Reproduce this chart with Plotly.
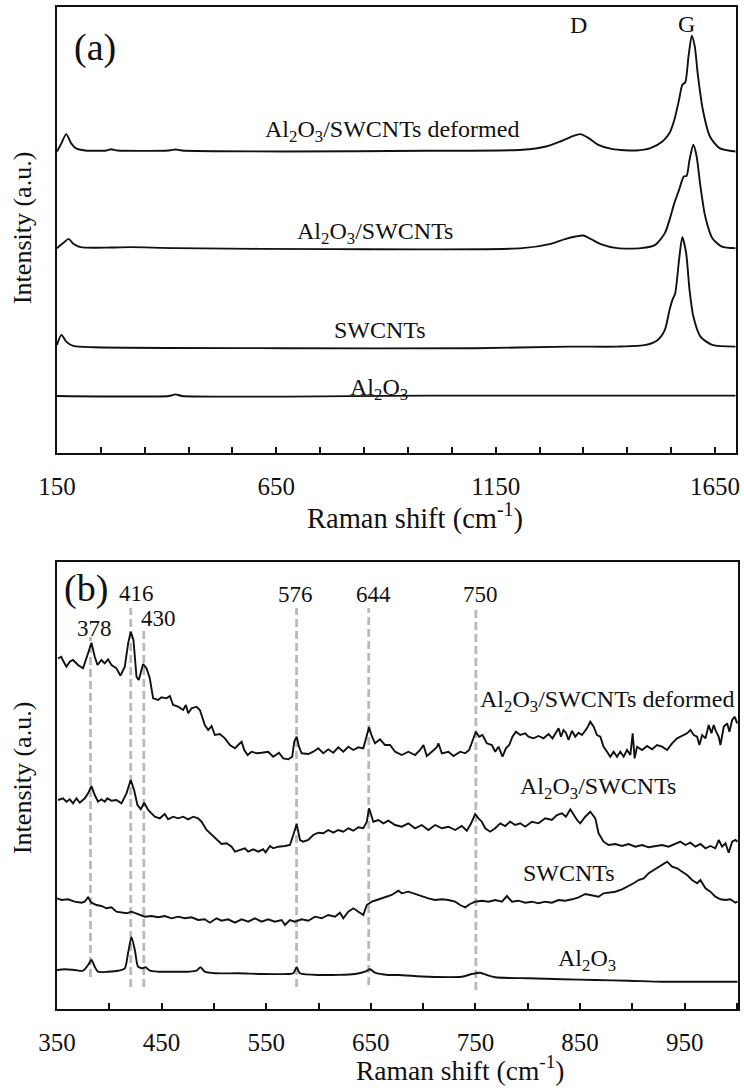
import plotly.graph_objects as go

# ---------------- Panel (a) data: Raman shift (cm-1), intensity (a.u.) ----------------
a_deformed = [(150, 301.3), (160.3, 309.7), (171, 318.7), (182, 309.7), (192.6, 304.7), (214.3, 302.3),
              (262, 302.3), (273.8, 303.5), (288, 302.3), (405, 302.3), (420, 303.3), (435, 302.3),
              (669, 301.3), (994, 302), (1210.6, 303), (1264.7, 306.3), (1297.3, 311.3), (1324.2, 316.3),
              (1342.6, 318.7), (1362, 314.7), (1383.9, 308), (1416.3, 303.7), (1470.5, 302.3),
              (1502.9, 304.7), (1530, 311.3), (1546.2, 319.7), (1557.2, 333), (1567.9, 353),
              (1575.4, 368), (1582, 370.3), (1589.5, 396.3), (1597, 417), (1603.7, 406.3),
              (1611.2, 376.3), (1622.1, 343), (1638.3, 316.3), (1660, 304.7), (1697, 301.3)]
a_composite = [(150, 204.7), (165.5, 210.3), (176.4, 214), (187.2, 209), (203.6, 205.7), (273.8, 205.3),
               (317.1, 205.7), (420, 204.7), (777.3, 203.7), (1210.6, 204.7), (1275.6, 209), (1308, 213.7),
               (1331.9, 216.3), (1349.3, 217.3), (1367.5, 213.7), (1389.2, 208.7), (1427.2, 204.7),
               (1481.2, 204.7), (1513.8, 208), (1535.5, 219.7), (1546.2, 233), (1557.2, 249.7),
               (1567.9, 263), (1578.8, 276.3), (1585.2, 277), (1591.8, 293), (1600.5, 308), (1608, 296.3),
               (1616.7, 266.3), (1627.6, 236.3), (1643.8, 214.7), (1665.4, 206.3), (1697, 204.7)]
a_swcnts = [(150, 108), (160.3, 118), (171, 111.3), (187.2, 107), (236, 105.7), (669, 104.7),
            (1102.4, 104.7), (1318.7, 106.3), (1427.2, 106.3), (1492.2, 108), (1519.3, 113),
            (1535.5, 123), (1546.2, 143), (1552.8, 153), (1559.2, 159.7), (1567.9, 193), (1575.4, 215.7),
            (1584.1, 199.7), (1591.8, 163), (1600.5, 136.3), (1616.7, 116.3), (1643.8, 108), (1697, 106.3)]
a_al2o3 = [(150, 57), (405, 57), (420, 58.6), (435, 57), (1000, 57.3), (1697, 57.3)]

a_tick_vals = [150, 650, 1150, 1650]
a_tick_text = ["150", "650", "1150", "1650"]
a_minor_step = 100

# ---------------- Panel (b) data ----------------
b_deformed = [(351, 350.7), (354.2, 352.3), (355.5, 349), (359, 342.3), (362.2, 347.3), (365.3, 349),
              (370.1, 344), (374.9, 340.7), (379.7, 355.7), (382.9, 366.3), (386.1, 352.3), (388.7, 344),
              (392.5, 349), (395.6, 345.7), (398.8, 349.7), (402.1, 344), (406.8, 340.7), (410.7, 333.3),
              (414.8, 342.3), (418, 365.7), (420.5, 377.3), (423.1, 369), (426, 332.3), (428.2, 329),
              (432.3, 345), (435.6, 340.7), (438.7, 330.7), (441.9, 310.7), (446.7, 309), (449.9, 311.7),
              (454.7, 310.7), (457.9, 313), (461, 304), (465.8, 302.3), (470.6, 299), (473.2, 304),
              (475.4, 295.7), (478.6, 300.7), (483.4, 302.3), (486.6, 299), (491.3, 284), (494.5, 279),
              (497.8, 283), (500.9, 274), (505.7, 275), (510.5, 270.7), (515.3, 264), (520.1, 260.7),
              (523.2, 264), (526.5, 267.3), (529, 259), (532.2, 254), (536, 257.3), (540.8, 255.7),
              (545.6, 256.3), (551.9, 257.3), (556.7, 252.3), (562.2, 256.3), (566.3, 250.7), (571.1, 249.7),
              (574.9, 252.3), (576.8, 267.3), (579.1, 272.3), (581.3, 262.3), (583.9, 255.7), (590.2, 255),
              (595, 257.3), (599.8, 260.7), (604.6, 255.7), (609.3, 259.7), (614.1, 256.3), (618.9, 261.7),
              (623.7, 257.3), (628.5, 262.3), (633.3, 259), (638, 261.7), (642.8, 260.7), (646.1, 272.3),
              (648.3, 281.7), (650.9, 273), (654, 265.7), (658.8, 269.7), (663.6, 264), (668.4, 264),
              (673.2, 257.3), (679.6, 254), (685.9, 257.3), (692.3, 254), (697.1, 259), (700.3, 264),
              (703.5, 253), (708.3, 257.3), (713.1, 261.7), (714.6, 265.7), (717.9, 255.7), (724.2, 257.3),
              (729, 253), (735.4, 257.3), (740.2, 255.7), (744, 259), (747.2, 269), (750.4, 277.3),
              (753.6, 272.3), (756.7, 274), (760.9, 265.7), (765.7, 264), (768.9, 257.3), (772, 262.3),
              (775.9, 252.3), (779.1, 260.7), (782.3, 264), (785.4, 272.3), (788.7, 277.3), (792.8, 274),
              (797.6, 275.7), (800.7, 272.3), (805.5, 270.7), (810.3, 273), (815.1, 270.7), (819.9, 275),
              (823.7, 270.7), (826.3, 275.7), (829.5, 280.7), (831.8, 272.3), (834.2, 279), (836.5, 276.3),
              (839, 269), (842.3, 278.3), (845.4, 272.3), (848.6, 276.3), (851.9, 274), (856.6, 280.7),
              (859.8, 287.3), (863, 282.3), (866.2, 274), (869.4, 272.3), (872.5, 262.3), (875.8, 257.3),
              (878.9, 252.3), (882.1, 257.3), (885.3, 252.3), (888.5, 257.3), (891.7, 252.3), (894.9, 259),
              (898.1, 254), (900.3, 275.7), (902.2, 250.7), (904.5, 262.3), (909.3, 259), (914.1, 263),
              (918.8, 259.7), (923.6, 264), (928.4, 262.3), (933.2, 259), (938, 265.7), (942.8, 270.7),
              (947.6, 273), (952.3, 275.7), (955.5, 279), (958.7, 274), (961.9, 272.3), (964.1, 264),
              (966.7, 274), (969.9, 270.7), (973, 284), (975.6, 275.7), (977.8, 284), (980.1, 277.3),
              (982.6, 272.3), (984.2, 264), (987.4, 282.3), (990.6, 285.7), (992.8, 277.3), (995.4, 289),
              (997.9, 292.3), (1000.2, 285.7)]

b_composite = [(351, 209), (355.7, 210.7), (359, 207.3), (362.2, 209.7), (365.3, 205.7), (368.6, 210.7),
               (371.8, 206.3), (376.6, 210.7), (379.7, 215.7), (382.9, 223), (386.1, 214), (389.2, 207.3),
               (392.5, 209.7), (395.6, 207.3), (398.2, 210.7), (402.1, 208.3), (406.8, 209), (411.6, 205.7),
               (416.4, 215.7), (420.5, 229), (423.7, 219), (426.9, 204), (430.1, 199.7), (433.3, 206.3),
               (437.1, 199), (440.3, 195.7), (443.5, 192.3), (448.3, 190.7), (453, 195), (456.2, 189.7),
               (461, 192.3), (465.8, 190.7), (470.6, 192.3), (475.4, 189.7), (480.2, 192.3), (484.9, 190.7),
               (488.2, 187.3), (493, 179), (497.8, 174), (502.5, 169), (507.3, 165), (512.1, 165.7),
               (516.9, 162.3), (520.1, 157.3), (524.8, 159), (529.6, 160.7), (532.8, 157.3), (537.6, 159.7),
               (542.4, 157.3), (547.1, 159.7), (549.4, 156.7), (553.6, 163), (556.7, 160.7), (561.5, 162.3),
               (567.9, 163), (572.7, 164), (575.9, 174), (579.1, 185), (582.3, 169), (585.4, 167.3),
               (590.2, 169), (595, 174), (599.8, 176.3), (604.6, 175.7), (609.3, 179), (614.1, 176.3),
               (618.9, 179), (623.7, 177.3), (628.5, 180.7), (633.3, 178.3), (638.1, 181.7), (642.8, 180.7),
               (646.1, 187), (648.3, 200.7), (652.4, 187.3), (657.2, 189), (662, 185.7), (666.8, 188.3),
               (673.2, 184), (679.6, 182.3), (685.9, 185.7), (692.3, 180.7), (698.7, 184), (705, 179),
               (711.5, 184), (717.9, 180.7), (724.2, 182.3), (730.6, 179), (737, 183), (741.8, 178.3),
               (745.9, 185.7), (749.7, 195), (752.9, 190.7), (756.1, 187.3), (759.3, 180.7), (764.1, 177.3),
               (768.9, 180.7), (773.7, 185.7), (778.5, 183), (783.2, 187.3), (788, 184), (792.8, 185.7),
               (797.6, 182.3), (804, 187.3), (810.3, 185.7), (816.7, 190.7), (823.1, 189), (827.9, 194),
               (832.7, 195.7), (836.5, 192.3), (840.7, 199.7), (843.8, 194), (847.1, 189), (850.2, 185.7),
               (855, 192.3), (859.8, 197.3), (864.6, 190.7), (867.7, 175.7), (872.5, 167.3), (877.3, 164),
               (883.7, 165), (890.1, 163), (896.4, 165), (902.9, 162.3), (909.3, 164), (915.6, 161.7),
               (922, 163), (928.4, 164), (934.7, 162.3), (941.1, 165), (945.9, 167.3), (950.7, 164),
               (955.5, 166.3), (960.3, 162.3), (965.1, 165), (969.9, 160.7), (974.6, 163), (979.4, 160.7),
               (982.6, 169), (985.8, 162.3), (989, 165.7), (992.1, 156.3), (995.4, 167.3), (998.6, 169),
               (1000.5, 167.3)]

b_swcnts = [(350, 110.7), (354.2, 109), (360.5, 109.7), (366.9, 107.3), (373.4, 106.3), (376.5, 107.3),
            (379.7, 111.7), (382.9, 106.3), (387.7, 104), (392.5, 103), (397.3, 100.7), (402.1, 101.7),
            (406.8, 97.3), (411.6, 96.3), (416.4, 95.7), (421.2, 97.3), (427.5, 95), (433.9, 92.3),
            (440.3, 93), (446.7, 91.7), (453.1, 93), (459.5, 90.7), (465.8, 92.3), (472.2, 90.7),
            (478.6, 91.7), (484.9, 89), (491.3, 89.7), (496.1, 86.3), (502.5, 90.7), (507.3, 88.3),
            (513.6, 89.7), (520.1, 86.3), (526.5, 89.7), (532.8, 87.3), (539.2, 90.7), (545.6, 87.3),
            (551.9, 89.7), (558.3, 87.3), (564.7, 89), (567.9, 84), (572.7, 89), (577.5, 87.3),
            (583.9, 89.7), (590.2, 88.3), (596.6, 92.3), (603, 90.7), (609.3, 94), (615.8, 92.3),
            (620.5, 96.3), (623.7, 90.7), (628.5, 97.3), (633.3, 100.7), (638.1, 97.3), (642.8, 94),
            (646.1, 104), (650.9, 107.3), (655.7, 109), (660.5, 110.7), (665.2, 113), (670, 114),
            (676.3, 118.3), (679.6, 115.7), (685.9, 117.3), (692.3, 115), (698.7, 113), (705, 110.7),
            (711.5, 109), (717.9, 109.7), (724.2, 109), (730.6, 107.3), (735.4, 104), (740.2, 101.7),
            (744.9, 105), (749.7, 107.3), (756.1, 108.3), (762.5, 107.3), (768.9, 109), (775.3, 107.3),
            (780.1, 113), (784.9, 107.3), (791.2, 108.3), (797.6, 106.3), (804, 107.3), (810.3, 105.7),
            (816.7, 107.3), (823.1, 106.3), (829.5, 109), (835.9, 108.3), (842.3, 109.7), (848.6, 111.7),
            (855, 115), (861.4, 114), (867.7, 112.3), (872.5, 115.7), (877.3, 116.3), (883.7, 117.3),
            (890.1, 119.7), (896.4, 123), (901.2, 125.7), (906, 129), (910.8, 130.7), (915.6, 135.7),
            (920.4, 139), (925.2, 142.3), (930, 145), (933.2, 147.3), (938, 142.3), (942.8, 140.7),
            (947.6, 137.3), (952.3, 134), (957.1, 129), (961.9, 125.7), (965.1, 129), (969.9, 120.7),
            (974.6, 117.3), (979.4, 112.3), (984.2, 109.7), (989, 109), (993.7, 109.7), (998.5, 106.3),
            (1000.5, 107.3)]

b_al2o3 = [(350, 39), (357.4, 39.7), (366.9, 39), (374.9, 38.3), (379.7, 44), (382.9, 49), (386.1, 42.3),
           (389.2, 37.3), (398.8, 37.3), (408.4, 38.3), (414.8, 40.7), (417.9, 55.7), (421.2, 71.7),
           (424.4, 59), (427.5, 42.3), (431.3, 40.7), (434.6, 41.7), (438.7, 38.3), (446.7, 37.3),
           (459.5, 37.3), (475.4, 37.3), (483.4, 38.3), (487.2, 41.7), (491.3, 37.3), (500.9, 35.7),
           (523.2, 35.7), (545.6, 35), (571.1, 35), (575.9, 35.7), (579.1, 41.7), (582.3, 35.7),
           (603, 34), (634.9, 35), (644.5, 37.3), (649.3, 39.7), (654, 36.3), (666.8, 34), (676.3, 34),
           (705, 32.3), (737, 32.3), (746.6, 35), (754.5, 36.3), (760.9, 34), (768.9, 31.7),
           (800.7, 30.7), (832.7, 29.7), (864.6, 29), (896.4, 28.3), (928.4, 27.3), (960.1, 27.3),
           (1000.5, 27.3)]

# reference peak lines (position on the axis, top and bottom of the dashed line) and their labels
ref_line_x = [382, 420.5, 433, 579, 648, 750.4]
ref_line_top = [372, 401, 379, 401, 401, 401]
ref_line_bottom = [32, 22, 22, 22, 24, 19]
ref_line_labels = ["378", "416", "430", "576", "644", "750"]

b_tick_vals = [350, 450, 550, 650, 750, 850, 950]
b_tick_text = ["350", "450", "550", "650", "750", "850", "950"]
b_minor_step = 50

FONT = "Liberation Serif, Times New Roman, serif"
BLACK = "#111111"

fig = go.Figure()


def add_curve(pairs, xa, ya, spline=False, width=1.9):
    xs = [p[0] for p in pairs]
    ys = [p[1] for p in pairs]
    line = dict(color=BLACK, width=width)
    if spline:
        line.update(shape="spline", smoothing=0.7)
    fig.add_trace(go.Scatter(x=xs, y=ys, mode="lines", line=line, xaxis=xa, yaxis=ya,
                             hoverinfo="skip", showlegend=False))


# dashed reference lines (drawn first, behind spectra)
for xv, top, bot in zip(ref_line_x, ref_line_top, ref_line_bottom):
    fig.add_trace(go.Scatter(x=[xv, xv], y=[bot, top], mode="lines",
                             line=dict(color="#b9b9b9", width=2.8, dash="8px,4px"),
                             xaxis="x2", yaxis="y2", hoverinfo="skip", showlegend=False))

for s in (a_deformed, a_composite, a_swcnts, a_al2o3):
    add_curve(s, "x", "y", spline=True)
add_curve(b_deformed, "x2", "y2")
add_curve(b_composite, "x2", "y2")
add_curve(b_swcnts, "x2", "y2")
add_curve(b_al2o3, "x2", "y2", spline=True)

axis_common = dict(showline=True, mirror=True, linecolor=BLACK, linewidth=2, showgrid=False,
                   zeroline=False, automargin=False)
tick_common = dict(ticks="inside", ticklen=6, tickwidth=2, tickcolor=BLACK,
                   tickfont=dict(size=25, family=FONT, color=BLACK), ticklabelstandoff=10)

fig.update_layout(
    width=744, height=1088,
    margin=dict(l=57, r=6, t=7, b=79),
    paper_bgcolor="white", plot_bgcolor="white",
    font=dict(family=FONT, color=BLACK, size=24),
    showlegend=False,
    xaxis=dict(domain=[0, 0.9966], anchor="y", range=[150, 1697],
               tickmode="array", tickvals=a_tick_vals, ticktext=a_tick_text,
               minor=dict(tick0=150, dtick=a_minor_step, ticks="inside", ticklen=6, tickwidth=2,
                          tickcolor=BLACK, showgrid=False),
               **tick_common, **axis_common),
    yaxis=dict(domain=[0.5549, 1.0], anchor="x", range=[0, 445.7], showticklabels=False, ticks="",
               **axis_common),
    xaxis2=dict(domain=[0, 1], anchor="y2", range=[350, 1001],
                tickmode="array", tickvals=b_tick_vals, ticktext=b_tick_text,
                minor=dict(tick0=350, dtick=b_minor_step, ticks="inside", ticklen=6, tickwidth=2,
                           tickcolor=BLACK, showgrid=False),
                **tick_common, **axis_common),
    yaxis2=dict(domain=[0, 0.4458], anchor="x2", range=[0, 446.7], showticklabels=False, ticks="",
                **axis_common),
)


def note(text, x, y, xref, yref, size=24, angle=0):
    fig.add_annotation(text=text, x=x, y=y, xref=xref, yref=yref, showarrow=False, textangle=angle,
                       xanchor="center", yanchor="middle",
                       font=dict(family=FONT, size=size, color=BLACK))


# axis titles
note("Raman shift (cm<sup>-1</sup>)", 0.525, 0.4915, "paper", "paper", size=28.5)
note("Raman shift (cm<sup>-1</sup>)", 0.5925, -0.0596, "paper", "paper", size=27.5)
note("Intensity\u00a0(a.u.)", -0.0514, 0.7794, "paper", "paper", size=26, angle=-90)
note("Intensity\u00a0(a.u.)", -0.0514, 0.2305, "paper", "paper", size=26, angle=-90)

# panel (a) labels
note("(a)", 236, 405, "x", "y", size=38)
note("D", 1338, 428, "x", "y", size=24)
note("G", 1586, 429, "x", "y", size=24)
note("Al<sub>2</sub>O<sub>3</sub>/SWCNTs deformed", 913, 322, "x", "y")
note("Al<sub>2</sub>O<sub>3</sub>/SWCNTs", 875, 220, "x", "y")
note("SWCNTs", 886, 123, "x", "y")
note("Al<sub>2</sub>O<sub>3</sub>", 883, 64, "x", "y")

# panel (b) labels
note("(b)", 378, 421, "x2", "y2", size=38)
label_spots = [(386, 381), (426, 416), (447, 391), (578, 415), (653, 415), (755, 415)]
for lab, (lx, ly) in zip(ref_line_labels, label_spots):
    note(lab, lx, ly, "x2", "y2", size=23)
note("Al<sub>2</sub>O<sub>3</sub>/SWCNTs deformed", 876, 308, "x2", "y2")
note("Al<sub>2</sub>O<sub>3</sub>/SWCNTs", 867, 221, "x2", "y2")
note("SWCNTs", 839, 136, "x2", "y2")
note("Al<sub>2</sub>O<sub>3</sub>", 857, 49, "x2", "y2")

fig.write_html("out.html", config={"displayModeBar": False},
               post_script="document.body.style.margin='0px';document.body.style.overflow='hidden';")
